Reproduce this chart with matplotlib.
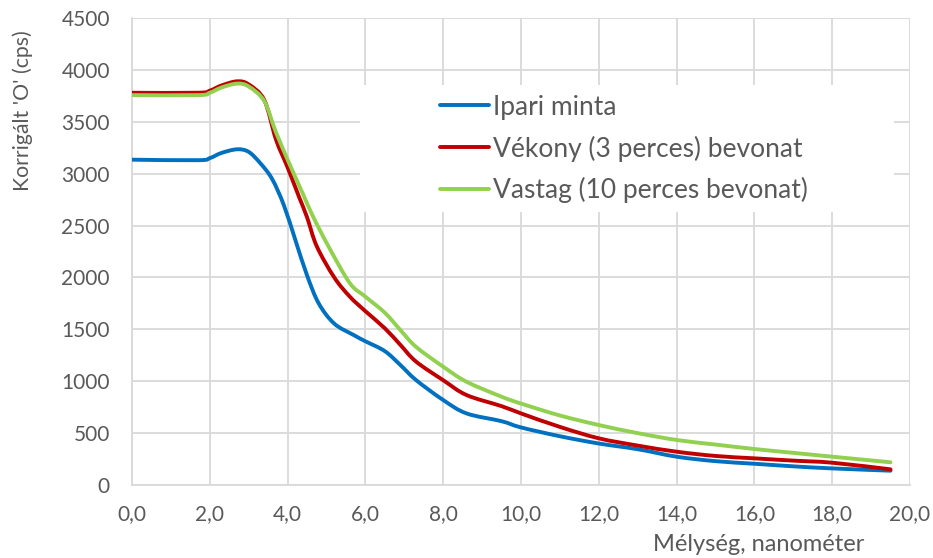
import matplotlib as mpl
import matplotlib.pyplot as plt
from matplotlib.path import Path
from matplotlib.patches import PathPatch, Rectangle

BLUE = "#0070C0"
RED = "#C00000"
GREEN = "#92D050"
GRID = "#D9D9D9"
TXT = "#595959"

mpl.rcParams.update({
    "font.family": ["Lato", "DejaVu Sans"],
    "axes.spines.top": False,
    "axes.spines.right": False,
})

# Ipari minta
x_ipari = [0.0, 1.7, 2.0, 2.3, 2.7, 3.0, 3.3, 3.6, 3.9, 4.2, 4.5, 4.8, 5.2, 5.7,
           6.0, 6.5, 6.9, 7.3, 8.0, 8.6, 9.5, 10.0, 11.0, 12.0, 13.0, 14.0,
           15.0, 16.0, 17.0, 18.0, 19.5]
y_ipari = [3135, 3130, 3150, 3200, 3235, 3210, 3100, 2950, 2700, 2360, 2020, 1750,
           1555, 1445, 1385, 1290, 1156, 1012, 819, 690, 615, 555, 470, 400, 345,
           273, 230, 205, 180, 160, 138]

# Vékony (3 perces) bevonat
x_vekony = [0.0, 1.7, 2.0, 2.3, 2.7, 3.0, 3.4, 3.7, 4.0, 4.3, 4.5, 4.75, 5.2, 5.6,
            6.0, 6.5, 6.9, 7.3, 8.0, 8.6, 9.5, 10.0, 11.0, 12.0, 13.0, 14.0,
            15.0, 16.0, 17.0, 18.0, 19.5]
y_vekony = [3780, 3780, 3800, 3850, 3890, 3860, 3710, 3330, 3060, 2770, 2580, 2300,
            2000, 1815, 1675, 1510, 1350, 1190, 1010, 867, 760, 690, 560, 450, 380,
            321, 280, 257, 235, 215, 151]

# Vastag (10 perces bevonat)
x_vastag = [0.0, 1.7, 2.0, 2.3, 2.7, 3.0, 3.4, 3.7, 4.1, 4.4, 4.65, 5.05, 5.6, 6.0,
            6.5, 6.9, 7.3, 8.0, 8.6, 9.5, 10.0, 11.0, 12.0, 13.0, 14.0, 15.0,
            16.0, 17.0, 18.0, 19.5]
y_vastag = [3757, 3757, 3780, 3830, 3868, 3840, 3700, 3400, 3050, 2800, 2590, 2300,
            1945, 1815, 1660, 1493, 1332, 1140, 995, 851, 785, 670, 578, 500, 434,
            390, 347, 310, 273, 219]

x_ticks = [0, 2, 4, 6, 8, 10, 12, 14, 16, 18, 20]
y_ticks = [0, 500, 1000, 1500, 2000, 2500, 3000, 3500, 4000, 4500]


def smooth_path(xs, ys, t=1 / 6):
    """Excel-style smoothed line: cubic Bezier segments (Catmull-Rom controls)."""
    n = len(xs)
    verts = [(xs[0], ys[0])]
    codes = [Path.MOVETO]
    for i in range(n - 1):
        i0, i3 = max(i - 1, 0), min(i + 2, n - 1)
        c1 = (xs[i] + t * (xs[i + 1] - xs[i0]), ys[i] + t * (ys[i + 1] - ys[i0]))
        c2 = (xs[i + 1] - t * (xs[i3] - xs[i]), ys[i + 1] - t * (ys[i3] - ys[i]))
        verts += [c1, c2, (xs[i + 1], ys[i + 1])]
        codes += [Path.CURVE4] * 3
    return Path(verts, codes)


fig = plt.figure(figsize=(9.33, 5.58), dpi=100)
ax = fig.add_axes([0.1415, 0.1308, 0.9753 - 0.1415, 0.9677 - 0.1308])

lw = 2.8
series = [
    (x_ipari, y_ipari, BLUE, "Ipari minta"),
    (x_vekony, y_vekony, RED, "Vékony (3 perces) bevonat"),
    (x_vastag, y_vastag, GREEN, "Vastag (10 perces bevonat)"),
]
handles = []
for xs, ys, col, lab in series:
    ax.add_patch(PathPatch(smooth_path(xs, ys), fill=False, edgecolor=col, lw=lw,
                           capstyle="round", joinstyle="round", zorder=3))
    h, = ax.plot([], [], color=col, lw=lw, label=lab, solid_capstyle="round")
    handles.append(h)

ax.set_xlim(0, 20)
ax.set_ylim(0, 4500)
ax.set_xticks(x_ticks)
ax.set_xticklabels([f"{v:.1f}".replace(".", ",") for v in x_ticks])
ax.set_yticks(y_ticks)
ax.grid(True, color=GRID, lw=1.3)
ax.set_axisbelow(True)
for s in ("left", "bottom"):
    ax.spines[s].set_color(GRID)
    ax.spines[s].set_linewidth(1.3)
ax.tick_params(length=0, labelsize=15, colors=TXT)
ax.tick_params(axis="x", pad=14)
ax.tick_params(axis="y", pad=16)

fig.text(23 / 933, 1 - 111 / 558, "Korrigált 'O' (cps)", fontsize=15.3, color=TXT,
         rotation=90, ha="center", va="center")
fig.text(0.8135, 0.012, "Mélység, nanométer", fontsize=17, color=TXT, ha="center")

# white legend background area (as in the original chart)
ax.add_patch(Rectangle((360, 558 - 212), 894 - 360, 212 - 85, transform=None,
                       facecolor="white", edgecolor="none", zorder=2))

leg = ax.legend(handles=handles, loc="upper left", bbox_to_anchor=(0.396, 0.836),
                frameon=False, fontsize=19, handlelength=1.85, handletextpad=0.15,
                labelspacing=0.6, borderpad=0.0, borderaxespad=0.0)
for t in leg.get_texts():
    t.set_color(TXT)

fig.savefig("out.png", dpi=100)
